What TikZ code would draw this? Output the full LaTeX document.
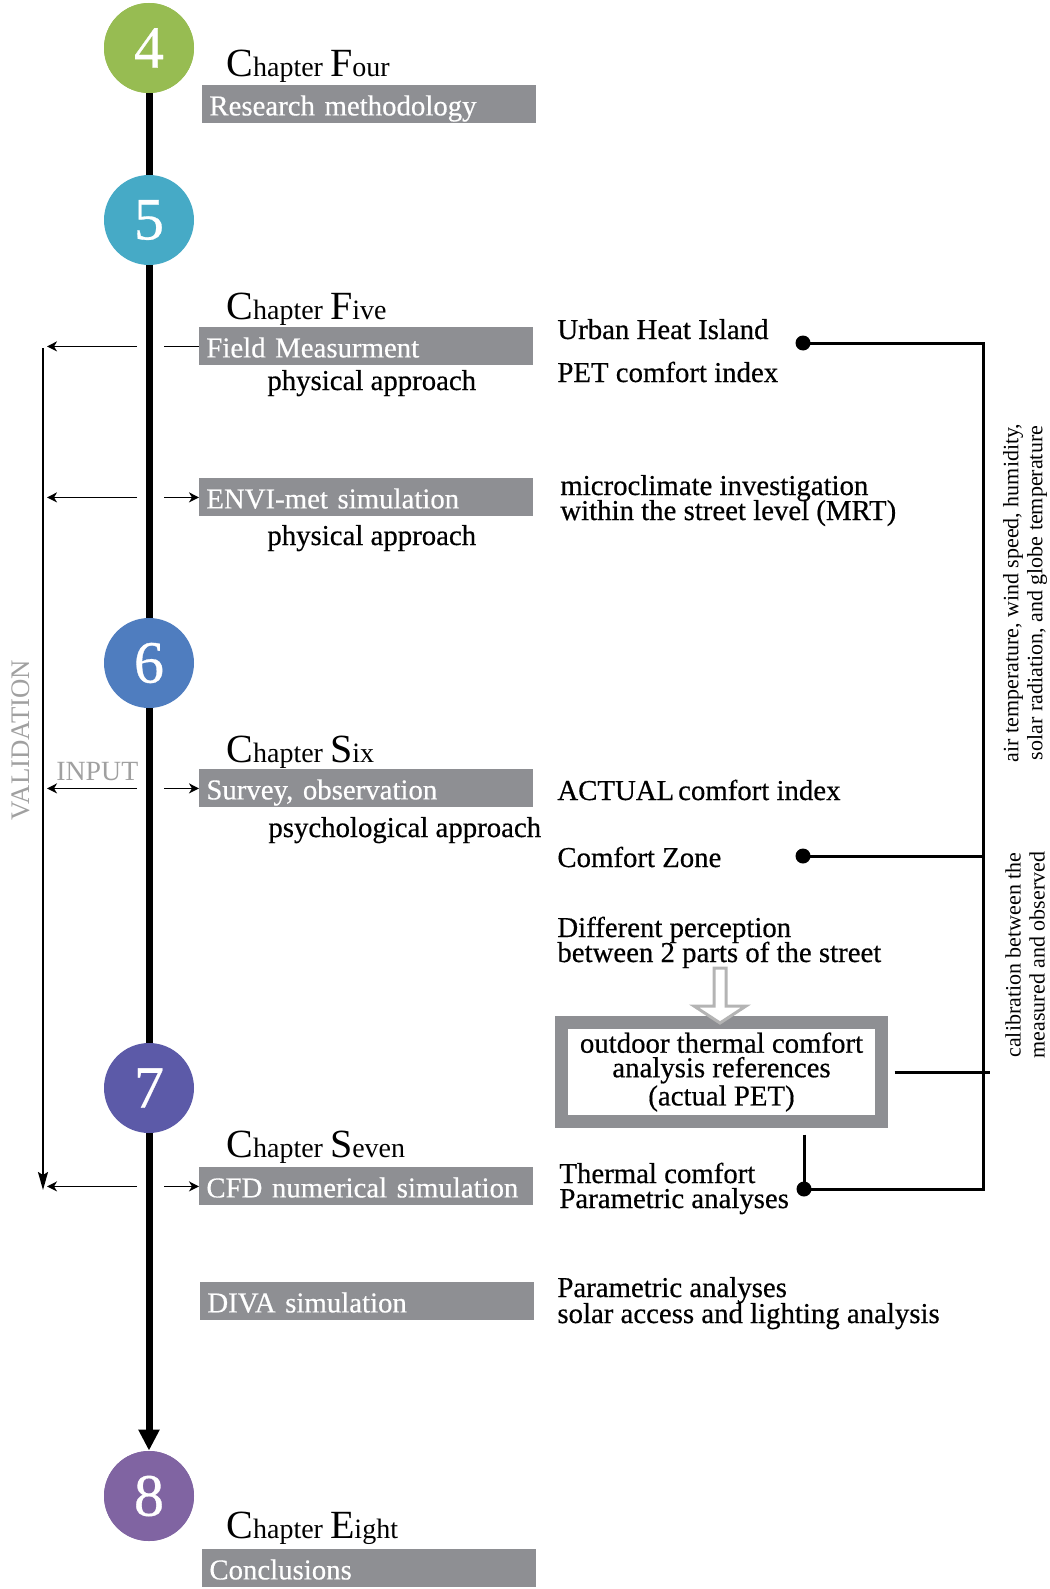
\documentclass[tikz,border=0pt]{standalone}
\usepackage{fontspec}
\setmainfont{Liberation Serif}
\newfontfamily\heavy{Liberation Serif}[FakeBold=0.5]
\usetikzlibrary{arrows.meta,calc}
\definecolor{cfour}{RGB}{151,188,82}
\definecolor{cfive}{RGB}{70,170,198}
\definecolor{csix}{RGB}{79,125,191}
\definecolor{cseven}{RGB}{92,90,168}
\definecolor{ceight}{RGB}{128,100,162}
\definecolor{boxgray}{RGB}{142,143,147}
\definecolor{hollowgray}{RGB}{180,180,180}
\definecolor{labelgray}{RGB}{160,160,160}
\newcommand\ChT[2]{{\fontsize{20}{20}\selectfont #1}{\fontsize{14}{14}\selectfont #2}}
\begin{document}
\begin{tikzpicture}[x=0.5pt,y=-0.5pt,
  txt/.style={anchor=base west, inner sep=0, font=\heavy\fontsize{14.4}{14.4}\selectfont},
  chap/.style={anchor=base west, inner sep=0, font=\fontsize{14}{14}\selectfont},
  gbox/.style={anchor=north west, fill=boxgray, text=white, inner xsep=3.5pt, inner ysep=0,
    text width=160pt, minimum height=19pt, text height=15pt, text depth=4pt, align=left,
    font=\heavy\fontsize{14.4}{14.4}\selectfont},
  chnum/.style={circle, minimum size=45pt, inner sep=0, text=white, font=\heavy\fontsize{30}{30}\selectfont},
  dot/.style={circle, fill=black, inner sep=0, minimum size=7.5pt},
  thinarrow/.style={line width=0.75pt, -{Stealth[length=5pt,width=5pt,inset=1.5pt]}},
  thinline/.style={line width=0.75pt},
  conn/.style={line width=1.5pt},
  rtxt/.style={rotate=90, align=center, inner sep=0, font=\fontsize{11}{12}\selectfont},
  glabel/.style={inner sep=0, text=labelgray}
]
\useasboundingbox (0,0) rectangle (1049,1589);

% chapter circles and main line
\node[chnum, fill=cfour] (c4) at (149,48) {};
\node[chnum, fill=ceight] (c8) at (149,1496) {};
\draw[line width=3.5pt, -{Triangle[length=10.5pt,width=10pt]}] (c4.center) -- (c8.north);
\node[chnum, fill=cfour] (c4b) at (149,48) {4};
\node[chnum, fill=cfive] (c5) at (149,220) {5};
\node[chnum, fill=csix] (c6) at (149,663) {6};
\node[chnum, fill=cseven] (c7) at (149,1088) {7};
\node[chnum, fill=ceight] (c8b) at (149,1496) {8};

% chapter titles
\node[chap] (t4) at (226,77) {\ChT{C}{hapter} \ChT{F}{our}};
\node[chap] (t5) at (226,319) {\ChT{C}{hapter} \ChT{F}{ive}};
\node[chap] (t6) at (226,762) {\ChT{C}{hapter} \ChT{S}{ix}};
\node[chap] (t7) at (226,1157) {\ChT{C}{hapter} \ChT{S}{even}};
\node[chap] (t8) at (226,1538) {\ChT{C}{hapter} \ChT{E}{ight}};

% gray boxes
\node[gbox] (b4) at (202,85) {Research methodology};
\node[gbox] (b5a) at (199,327) {Field Measurment};
\node[gbox] (b5b) at (199,478) {ENVI-met simulation};
\node[gbox] (b6) at (199,769) {Survey, observation};
\node[gbox] (b7a) at (199,1167) {CFD numerical simulation};
\node[gbox] (b7b) at (200,1282) {DIVA simulation};
\node[gbox] (b8) at (202,1549) {Conclusions};

% approaches
\node[txt] (pa1) at (267,390) {physical approach};
\node[txt] (pa2) at (267,545) {physical approach};
\node[txt] (pa3) at (268,837) {psychological approach};

% validation line and arrows
\coordinate (vt) at (43,348);
\coordinate (vb) at (43,1190);
\draw[line width=1pt, -{Stealth[length=9pt,width=5pt,inset=1.5pt]}] (vt) -- (vb);
\foreach \b in {b5a,b5b,b6,b7a}{
  \draw[thinarrow] ($(\b.west)+(-62,0)$) -- ($(\b.west -| vt)+(4,0)$);
}
\draw[thinline] ($(b5a.west)+(-35,0)$) -- (b5a.west);
\foreach \b in {b5b,b6,b7a}{
  \draw[thinarrow] ($(\b.west)+(-35,0)$) -- (\b.west);
}
\node[glabel, anchor=base west, font=\fontsize{13.9}{13.9}\selectfont] (inp) at (56,780) {INPUT};
\node[glabel, rotate=90, font=\fontsize{13.4}{13.4}\selectfont] (val) at (21,740) {VALIDATION};

% right column texts
\node[txt] (uhi) at (557,339) {Urban Heat Island};
\node[txt] (pet) at (557,382) {PET comfort index};
\node[txt] (mc1) at (560,495) {microclimate investigation};
\node[txt] (mc2) at (560,520) {within the street level (MRT)};
\node[txt] (act) at (557,800) {ACTUAL\kern2pt comfort index};
\node[txt] (cz) at (557,867) {Comfort Zone};
\node[txt] (dp1) at (557,937) {Different perception};
\node[txt] (dp2) at (557,962) {between 2 parts of the street};
\node[txt] (tc1) at (559,1183) {Thermal comfort};
\node[txt] (tc2) at (559,1208) {Parametric analyses};
\node[txt] (pr1) at (557,1297) {Parametric analyses};
\node[txt] (pr2) at (557,1323) {solar access and lighting analysis};

% right connectors
\node[dot] (d1) at (803,343) {};
\node[dot] (d2) at (803,856) {};
\node[dot] (d3) at (804,1189) {};
\coordinate (rt) at (983,343);
\coordinate (rb) at (983,1189);
\node[draw=boxgray, line width=6.5pt, minimum width=160pt, minimum height=49.5pt, inner sep=0,
  align=center, font=\heavy\fontsize{14.4}{12.25}\selectfont] (ref) at (721.5,1072)
  {outdoor thermal comfort\\analysis references\\(actual PET)};
\draw[conn] (d1.center) -- (rt) -- (rb) -- (d3.center);
\draw[conn] (d2.center) -- (d2 -| rt);
\draw[conn] ([xshift=3.25pt]ref.east) -- ([xshift=3.25pt]ref.east -| rt);
\draw[conn] ([yshift=-3.25pt]ref.south -| d3) -- (d3.center);

% hollow arrow
\coordinate (ha) at (720,968);
\draw[hollowgray, line width=1.5pt, fill=white, line join=miter]
  (ha) ++(-6,0) -- ++(12,0) -- ++(0,38) -- ++(20,0) -- ++(-26,17) -- ++(-26,-17) -- ++(20,0) -- cycle;

% rotated notes
\node[rtxt] (n1) at (1025,593) {air temperature, wind speed, humidity,\\solar radiation, and globe temperature};
\node[rtxt] (n2) at (1025,955) {calibration between the\\measured and observed};
\end{tikzpicture}
\end{document}
